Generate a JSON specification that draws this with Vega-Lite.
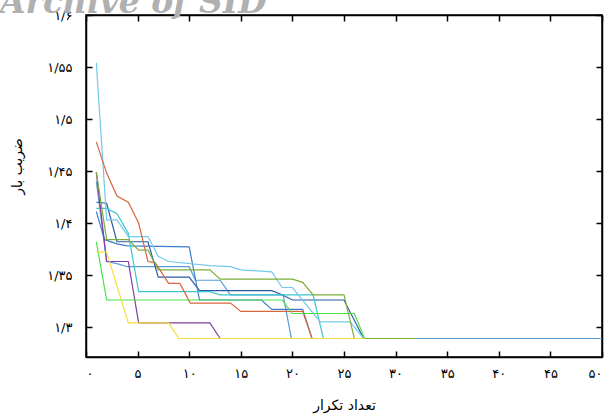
{
  "$schema": "https://vega.github.io/schema/vega-lite/v6.json",
  "width": 516,
  "height": 342,
  "autosize": {"type": "none"},
  "padding": {"left": 86, "top": 15, "right": 2, "bottom": 62},
  "title": {"text": "Archive of SID", "anchor": "start", "frame": "group", "dx": -86, "dy": 37, "offset": 0, "baseline": "alphabetic", "fontSize": 33, "fontStyle": "italic", "fontWeight": "bold", "color": "#b0b0b0", "font": "DejaVu Serif"},
  "config": {
    "view": {"stroke": "black", "strokeWidth": 1.5},
    "axis": {"domainColor": "black", "domainWidth": 1.5, "tickColor": "black", "tickWidth": 1.5, "tickSize": -6, "grid": false, "labelFont": "DejaVu Sans", "labelFontSize": 13, "labelColor": "black", "titleFont": "DejaVu Sans", "titleFontSize": 14, "titleFontWeight": "normal", "titleColor": "black"}
  },
  "data": {"values": [
    {"s":"s01","x":1,"y":1.44},{"s":"s01","x":2,"y":1.363},{"s":"s01","x":3,"y":1.361},{"s":"s01","x":4,"y":1.358},{"s":"s01","x":10,"y":1.358},{"s":"s01","x":10.6,"y":1.345},{"s":"s01","x":13,"y":1.345},{"s":"s01","x":14,"y":1.331},{"s":"s01","x":19.1,"y":1.331},{"s":"s01","x":19.9,"y":1.289},{"s":"s01","x":50,"y":1.289},
    {"s":"s02","x":1,"y":1.42},{"s":"s02","x":2,"y":1.419},{"s":"s02","x":3,"y":1.382},{"s":"s02","x":6,"y":1.382},{"s":"s02","x":7,"y":1.348},{"s":"s02","x":10,"y":1.348},{"s":"s02","x":11,"y":1.335},{"s":"s02","x":18,"y":1.335},{"s":"s02","x":19,"y":1.331},{"s":"s02","x":20,"y":1.326},{"s":"s02","x":25,"y":1.326},{"s":"s02","x":26.9,"y":1.289},{"s":"s02","x":30,"y":1.289},
    {"s":"s03","x":1,"y":1.411},{"s":"s03","x":1.8,"y":1.384},{"s":"s03","x":3,"y":1.38},{"s":"s03","x":4,"y":1.378},{"s":"s03","x":10,"y":1.377},{"s":"s03","x":11,"y":1.326},{"s":"s03","x":17,"y":1.326},{"s":"s03","x":18,"y":1.317},{"s":"s03","x":21,"y":1.317},{"s":"s03","x":21.9,"y":1.289},{"s":"s03","x":30,"y":1.289},
    {"s":"s04","x":1,"y":1.414},{"s":"s04","x":2,"y":1.414},{"s":"s04","x":3,"y":1.409},{"s":"s04","x":4.1,"y":1.39},{"s":"s04","x":5.1,"y":1.334},{"s":"s04","x":12,"y":1.334},{"s":"s04","x":13,"y":1.331},{"s":"s04","x":22,"y":1.331},{"s":"s04","x":23,"y":1.289},{"s":"s04","x":30,"y":1.289},
    {"s":"s05","x":1,"y":1.554},{"s":"s05","x":2,"y":1.403},{"s":"s05","x":3,"y":1.403},{"s":"s05","x":4.1,"y":1.387},{"s":"s05","x":6,"y":1.387},{"s":"s05","x":7,"y":1.368},{"s":"s05","x":8,"y":1.363},{"s":"s05","x":12,"y":1.359},{"s":"s05","x":14,"y":1.358},{"s":"s05","x":15,"y":1.355},{"s":"s05","x":18,"y":1.353},{"s":"s05","x":19,"y":1.338},{"s":"s05","x":20,"y":1.338},{"s":"s05","x":22.7,"y":1.305},{"s":"s05","x":25.6,"y":1.305},{"s":"s05","x":26.9,"y":1.289},{"s":"s05","x":30,"y":1.289},
    {"s":"s06","x":1,"y":1.478},{"s":"s06","x":2,"y":1.448},{"s":"s06","x":3,"y":1.426},{"s":"s06","x":4.1,"y":1.42},{"s":"s06","x":5.1,"y":1.4},{"s":"s06","x":6,"y":1.363},{"s":"s06","x":6.7,"y":1.362},{"s":"s06","x":8,"y":1.342},{"s":"s06","x":9.1,"y":1.342},{"s":"s06","x":10.1,"y":1.323},{"s":"s06","x":14,"y":1.323},{"s":"s06","x":15,"y":1.315},{"s":"s06","x":21,"y":1.315},{"s":"s06","x":21.9,"y":1.289},{"s":"s06","x":28,"y":1.289},
    {"s":"s07","x":1,"y":1.449},{"s":"s07","x":2,"y":1.363},{"s":"s07","x":4.1,"y":1.363},{"s":"s07","x":5.1,"y":1.304},{"s":"s07","x":12,"y":1.304},{"s":"s07","x":13,"y":1.289},{"s":"s07","x":28,"y":1.289},
    {"s":"s08","x":1,"y":1.382},{"s":"s08","x":2,"y":1.326},{"s":"s08","x":19,"y":1.326},{"s":"s08","x":20,"y":1.313},{"s":"s08","x":26,"y":1.313},{"s":"s08","x":27,"y":1.289},{"s":"s08","x":30,"y":1.289},
    {"s":"s09","x":1,"y":1.449},{"s":"s09","x":2,"y":1.384},{"s":"s09","x":4.1,"y":1.384},{"s":"s09","x":5.1,"y":1.374},{"s":"s09","x":6,"y":1.374},{"s":"s09","x":7,"y":1.355},{"s":"s09","x":12,"y":1.355},{"s":"s09","x":13,"y":1.346},{"s":"s09","x":20,"y":1.346},{"s":"s09","x":21,"y":1.343},{"s":"s09","x":22,"y":1.331},{"s":"s09","x":25,"y":1.331},{"s":"s09","x":26,"y":1.289},{"s":"s09","x":32,"y":1.289},
    {"s":"s10","x":1,"y":1.372},{"s":"s10","x":2,"y":1.372},{"s":"s10","x":4.1,"y":1.304},{"s":"s10","x":8,"y":1.304},{"s":"s10","x":9,"y":1.289},{"s":"s10","x":27,"y":1.289}
  ]},
  "layer": [
    {
      "mark": {"type": "line", "strokeWidth": 1.2, "clip": true},
      "encoding": {
        "x": {"field": "x", "type": "quantitative", "scale": {"domain": [0, 50], "nice": false, "zero": false},
          "axis": {"orient": "bottom", "values": [0,5,10,15,20,25,30,35,40,45,50], "title": "تعداد تکرار", "titleY": 52, "titleBaseline": "alphabetic", "labelPadding": 16,
            "labelExpr": "replace(replace(replace(replace(replace(replace(replace(replace(format(datum.value,'.2~f'),regexp('[.]','g'),'/'),regexp('0','g'),'۰'),regexp('1','g'),'۱'),regexp('2','g'),'۲'),regexp('3','g'),'۳'),regexp('4','g'),'۴'),regexp('5','g'),'۵'),regexp('6','g'),'۶')"}},
        "y": {"field": "y", "type": "quantitative", "scale": {"domain": [1.2712, 1.6], "nice": false, "zero": false},
          "axis": {"orient": "left", "values": [1.3,1.35,1.4,1.45,1.5,1.55,1.6], "title": "ضریب بار", "titleX": -62, "titleY": 151, "labelPadding": 20,
            "labelExpr": "replace(replace(replace(replace(replace(replace(replace(replace(format(datum.value,'.2~f'),regexp('[.]','g'),'/'),regexp('0','g'),'۰'),regexp('1','g'),'۱'),regexp('2','g'),'۲'),regexp('3','g'),'۳'),regexp('4','g'),'۴'),regexp('5','g'),'۵'),regexp('6','g'),'۶')"}},
        "color": {"field": "s", "type": "nominal", "legend": null,
          "scale": {"domain": ["s01","s02","s03","s04","s05","s06","s07","s08","s09","s10"],
                    "range": ["#5b9bd5","#2b5ba8","#3d7cc9","#3cc6cc","#74c9ea","#d9663c","#7e3fa0","#48e048","#7cad38","#f5dd40"]}}
      }
    },
    {
      "mark": {"type": "line", "opacity": 0},
      "encoding": {
        "x": {"field": "x", "type": "quantitative", "axis": {"orient": "top", "values": [0,5,10,15,20,25,30,35,40,45,50], "labels": false, "title": null}},
        "y": {"field": "y", "type": "quantitative", "axis": {"orient": "right", "values": [1.3,1.35,1.4,1.45,1.5,1.55,1.6], "labels": false, "title": null}},
        "detail": {"field": "s"}
      }
    }
  ],
  "resolve": {"axis": {"x": "independent", "y": "independent"}}
}
